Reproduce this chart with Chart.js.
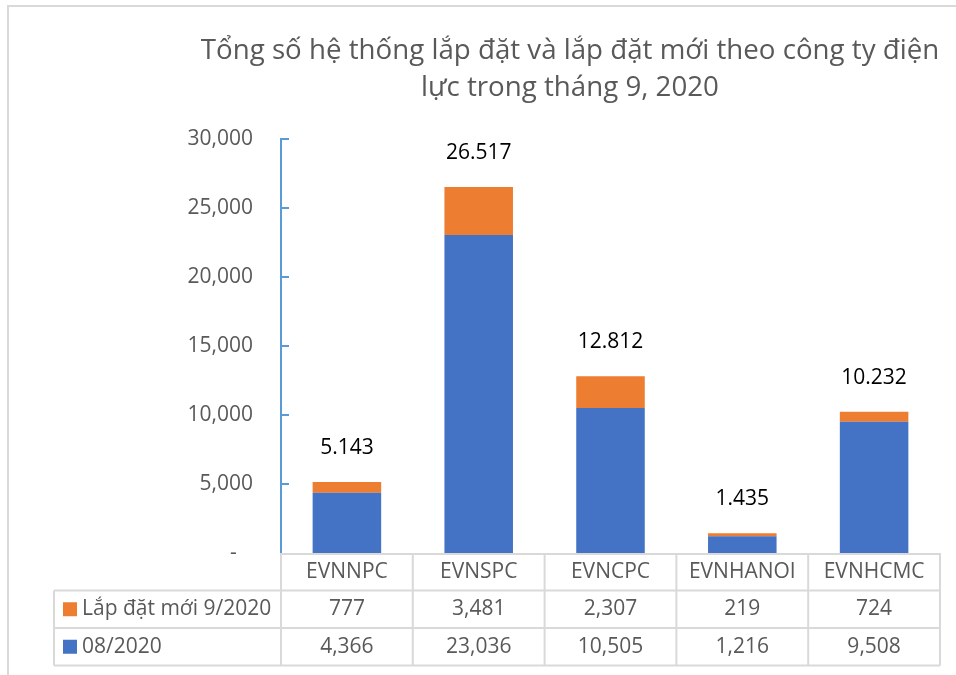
<!DOCTYPE html>
<html>
<head>
<meta charset="utf-8">
<script src="https://cdn.jsdelivr.net/npm/chart.js@4.4.1/dist/chart.umd.min.js"></script>
<style>
  body { margin: 0; background: #fff; }
  #wrap { width: 956px; height: 675px; }
</style>
</head>
<body>
<div id="wrap"><canvas id="solarChart" width="956" height="675"></canvas></div>
<script>
// data
const categories = ['EVNNPC', 'EVNSPC', 'EVNCPC', 'EVNHANOI', 'EVNHCMC'];
const augValues = [4366, 23036, 10505, 1216, 9508];      // 08/2020
const newValues = [777, 3481, 2307, 219, 724];           // Lắp đặt mới 9/2020
const seriesNames = ['Lắp đặt mới 9/2020', '08/2020'];
const titleLines = ['Tổng số hệ thống lắp đặt và lắp đặt mới theo công ty điện', 'lực trong tháng 9, 2020'];
const yMax = 30000;
const yStep = 5000;

const BLUE = '#4472C4';
const ORANGE = '#ED7D31';
const AXIS = '#5B9BD5';
const GRIDC = '#d9d9d9';
const TEXT = '#595959';
const FONT = '"Open Sans", "Noto Sans", sans-serif';

// totals above the bars, written with a dot like the original
const totals = augValues.map((v, i) => v + newValues[i]);
function dotFormat(n) {
    return n.toString().replace(/\B(?=(\d{3})+(?!\d))/g, '.');
}
function commaFormat(n) {
    return n.toString().replace(/\B(?=(\d{3})+(?!\d))/g, ',');
}

const extrasPlugin = {
    id: 'extras',
    afterDraw(chart) {
        const ctx = chart.ctx;
        const area = chart.chartArea;
        const x = chart.scales.x;
        const y = chart.scales.y;
        ctx.save();

        // outer frame (light gray, clipped at right/bottom)
        ctx.strokeStyle = GRIDC;
        ctx.lineWidth = 2;
        ctx.beginPath();
        ctx.moveTo(8, 700);
        ctx.lineTo(8, 6);
        ctx.lineTo(980, 6);
        ctx.stroke();

        // title, fitted to the width of the original first line
        ctx.fillStyle = TEXT;
        ctx.textAlign = 'center';
        ctx.textBaseline = 'alphabetic';
        ctx.font = '26px ' + FONT;
        let w = ctx.measureText(titleLines[0]).width;
        let size = 26 * 740 / w;
        ctx.font = size.toFixed(1) + 'px ' + FONT;
        ctx.fillText(titleLines[0], 570, 59);
        ctx.fillText(titleLines[1], 570, 96);

        // small tick marks on the value axis
        ctx.strokeStyle = AXIS;
        ctx.lineWidth = 2;
        y.ticks.forEach(t => {
            if (t.value === 0) return;
            const py = Math.round(y.getPixelForValue(t.value));
            ctx.beginPath();
            ctx.moveTo(area.left, py);
            ctx.lineTo(area.left + 8, py);
            ctx.stroke();
        });

        // total labels
        ctx.fillStyle = '#000';
        ctx.font = '21px ' + FONT;
        ctx.textAlign = 'center';
        ctx.textBaseline = 'middle';
        totals.forEach((t, i) => {
            ctx.fillText(dotFormat(t), x.getPixelForValue(i), y.getPixelForValue(t) - 34);
        });

        // data table under the plot
        const top = area.bottom;
        const rowH = 37.5;
        const legendLeft = 54;
        const right = area.right;
        const bounds = [area.left];
        for (let i = 0; i < categories.length - 1; i++) {
            bounds.push((x.getPixelForValue(i) + x.getPixelForValue(i + 1)) / 2);
        }
        bounds.push(right);

        ctx.strokeStyle = GRIDC;
        ctx.lineWidth = 2;
        ctx.beginPath();
        ctx.moveTo(area.left, top + 1); ctx.lineTo(right, top + 1);
        for (let r = 1; r <= 3; r++) {
            ctx.moveTo(legendLeft, top + r * rowH); ctx.lineTo(right, top + r * rowH);
        }
        ctx.moveTo(legendLeft, top + rowH); ctx.lineTo(legendLeft, top + 3 * rowH);
        bounds.forEach(bx => {
            ctx.moveTo(bx, top); ctx.lineTo(bx, top + 3 * rowH);
        });
        ctx.stroke();

        ctx.fillStyle = TEXT;
        ctx.font = '21px ' + FONT;
        ctx.textAlign = 'center';
        ctx.textBaseline = 'middle';
        const rows = [newValues, augValues];
        categories.forEach((c, i) => {
            const cx = x.getPixelForValue(i);
            ctx.fillText(c, cx, top + rowH * 0.5);
            rows.forEach((vals, r) => {
                ctx.fillText(commaFormat(vals[i]), cx, top + rowH * (r + 1.5));
            });
        });

        // legend keys in the table
        const keyColors = [ORANGE, BLUE];
        ctx.textAlign = 'left';
        seriesNames.forEach((name, r) => {
            const cy = top + rowH * (r + 1.5);
            ctx.fillStyle = keyColors[r];
            ctx.fillRect(63, cy - 7, 14, 14);
            ctx.fillStyle = TEXT;
            ctx.fillText(name, 82, cy);
        });

        ctx.restore();
    }
};

const ctx = document.getElementById('solarChart').getContext('2d');
const solarChart = new Chart(ctx, {
    type: 'bar',
    data: {
        labels: categories,
        datasets: [
            {
                label: seriesNames[1],
                data: augValues,
                backgroundColor: BLUE,
                categoryPercentage: 1,
                barPercentage: 0.52
            },
            {
                label: seriesNames[0],
                data: newValues,
                backgroundColor: ORANGE,
                categoryPercentage: 1,
                barPercentage: 0.52
            }
        ]
    },
    options: {
        responsive: false,
        animation: false,
        layout: {
            padding: { left: 0, right: 16, top: 139, bottom: 122 }
        },
        plugins: {
            legend: { display: false },
            title: { display: false },
            tooltip: { enabled: false }
        },
        scales: {
            x: {
                stacked: true,
                display: false
            },
            y: {
                stacked: true,
                min: 0,
                max: yMax,
                afterFit: function(scale) {
                    scale.width = 281;
                },
                grid: { display: false, drawTicks: false },
                border: { display: true, color: AXIS, width: 2 },
                ticks: {
                    stepSize: yStep,
                    padding: 28,
                    color: TEXT,
                    font: { family: FONT, size: 21 },
                    callback: function(value) {
                        return value === 0 ? '-   ' : commaFormat(value);
                    }
                }
            }
        }
    },
    plugins: [extrasPlugin]
});
</script>
</body>
</html>
